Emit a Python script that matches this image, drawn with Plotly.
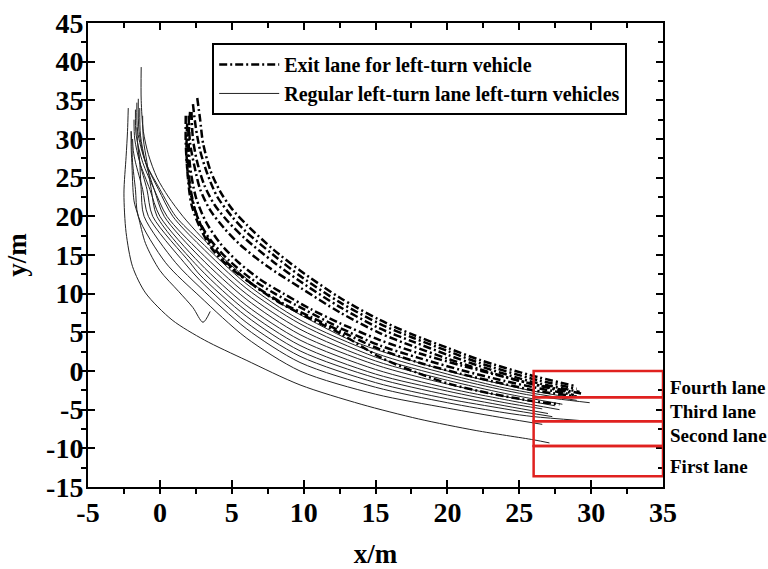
import plotly.graph_objects as go

# ---------------- data ----------------
x_ticks = [-5, 0, 5, 10, 15, 20, 25, 30, 35]
x_tick_labels = ["-5", "0", "5", "10", "15", "20", "25", "30", "35"]
y_ticks = [-15, -10, -5, 0, 5, 10, 15, 20, 25, 30, 35, 40, 45]
y_tick_labels = ["-15", "-10", "-5", "0", "5", "10", "15", "20", "25", "30", "35", "40", "45"]

# exit-lane left-turn vehicle trajectories (dash-dot)
exit_x = [
    [2.6, 2.8, 3.0, 3.5, 4.2, 5.0, 6.1, 7.9, 9.75, 12.5, 15.3, 17.6, 20, 22.3, 25.7, 28.8],
    [2.3, 2.5, 2.8, 3.3, 4.0, 5.0, 6.0, 7.9, 9.75, 12.5, 15.3, 17.6, 20, 22.3, 25.7, 29.0],
    [2.2, 2.3, 2.6, 3.1, 3.8, 4.8, 6.0, 7.9, 9.75, 12.5, 15.3, 17.6, 20, 22.3, 25.7, 29.2],
    [2.0, 2.1, 2.4, 2.8, 3.5, 4.5, 5.6, 7.5, 9.75, 12.5, 15.3, 17.6, 20, 22.3, 25.7, 28.5],
    [2.1, 2.0, 2.1, 2.5, 3.2, 4.2, 5.5, 7.0, 8.6, 10.5, 12.5, 15.3, 18, 21, 24, 26, 29.3],
    [1.8, 1.8, 1.9, 2.2, 2.7, 3.5, 4.8, 6.3, 8.0, 10, 12.5, 15.3, 18, 21, 24, 26, 28.8],
    [1.9, 1.85, 1.95, 2.2, 2.8, 3.7, 5.0, 6.6, 8.6, 10.5, 12.5, 15.3, 18, 21, 24, 26, 29.0],
    [2.0, 1.95, 2.1, 2.5, 3.3, 4.5, 6.0, 8.0, 10, 12.5, 15.3, 18, 20.2, 23, 26, 27.8],
]
exit_y = [
    [35.3, 32.5, 29.5, 26, 23.2, 21, 18.8, 15.7, 13.0, 9.5, 6.6, 4.7, 3.0, 1.4, -0.5, -1.9],
    [34.5, 31.5, 28.5, 25.5, 22.5, 20, 18.0, 15.0, 12.3, 8.9, 6.1, 4.3, 2.6, 1.0, -0.9, -2.3],
    [33.5, 30, 27, 24, 21.5, 19.2, 17.0, 14.1, 11.6, 8.3, 5.5, 3.8, 2.1, 0.6, -1.3, -2.7],
    [33.0, 29.5, 26.5, 23.5, 20.8, 18.4, 16.3, 13.5, 10.8, 7.6, 4.9, 3.2, 1.6, 0.2, -1.6, -2.8],
    [33.5, 30, 26.5, 22.5, 19.3, 16.5, 14.0, 11.8, 10.0, 8.0, 6.2, 4.0, 2.3, 0.7, -0.8, -1.7, -2.9],
    [33.0, 29.5, 26.3, 22.5, 19.5, 17.0, 14.3, 12.0, 10.0, 8.0, 5.6, 3.3, 1.7, 0.1, -1.3, -2.1, -3.1],
    [32.0, 28.5, 25, 21.5, 18.5, 15.6, 13.2, 11.0, 8.7, 7.0, 5.2, 2.8, 1.1, -0.4, -1.7, -2.5, -3.3],
    [31.5, 28, 24, 20.5, 17.2, 14.3, 11.8, 9.2, 7.2, 4.9, 1.8, -0.3, -1.7, -2.9, -3.9, -4.3],
]

# regular left-turn lane vehicle trajectories (solid)
regular_x = [
    [-1.3, -1.3, -1.15, -0.8, -0.2, 0.6, 1.6, 2.8, 4.0, 6.0, 8.0, 9.75, 13, 15, 20, 24, 26, 28.5],
    [-1.6, -1.55, -1.0, 0.0, 1.1, 2.8, 6, 9.75, 15, 20, 24, 26, 29.0],
    [-1.5, -1.45, -1.0, -0.1, 0.9, 2.8, 6, 9.75, 15, 20, 24, 26, 29.9],
    [-1.7, -1.65, -1.2, -0.4, 0.5, 2.8, 6, 9.75, 15, 20, 24, 28.0],
    [-1.4, -1.35, -1.0, -0.4, 0.3, 2.8, 6, 9.75, 15, 20, 24, 27.5],
    [-1.8, -1.75, -1.4, -0.7, 0.0, 2.8, 6, 9.75, 15, 20, 24, 26, 27.8],
    [-1.2, -1.15, -0.9, -0.6, -0.2, 2.8, 6, 9.75, 15, 20, 24, 26.6],
    [-1.6, -1.55, -1.4, -0.9, -0.5, 2.1, 2.8, 6, 9.75, 15, 20, 24, 27.0],
    [-1.9, -1.85, -1.7, -1.2, -0.8, 1.7, 2.8, 6, 9.75, 15, 20, 24, 27.3],
    [-1.5, -1.45, -1.4, -1.3, -1.1, 1.1, 2.8, 6, 9.75, 15, 20, 24, 26, 29.2],
    [-2.0, -1.95, -1.9, -1.7, -1.5, 0.4, 2.8, 6, 9.75, 15, 20, 24, 26.6],
    [-2.2, -2.25, -2.35, -2.5, -2.35, -1.9, -1.0, 0.85, 3.1, 6, 9.75, 14, 18, 22, 26, 27.1],
    [-2.0, -2.0, -1.95, -1.8, -1.5, -1.0, 0.0, 1.3, 2.3, 3.0, 3.5],
]
regular_y = [
    [39.3, 35, 31, 28, 25, 22.5, 20, 17.5, 15.3, 12.0, 9.2, 7.3, 4.2, 2.8, 0.0, -1.8, -2.6, -3.4],
    [34.7, 31, 27, 23.5, 20, 16.8, 11.3, 6.6, 2.3, -0.4, -2.2, -2.9, -3.8],
    [35.2, 31, 27, 23.5, 20, 16.2, 10.7, 6.1, 1.8, -0.8, -2.5, -3.2, -4.1],
    [33.8, 30.5, 27, 23.5, 20, 15.4, 10.0, 5.4, 1.3, -1.2, -2.9, -4.3],
    [34.0, 30.5, 27, 23.5, 20, 14.7, 9.3, 4.7, 0.8, -1.7, -3.3, -4.5],
    [32.5, 30, 27, 23.5, 20, 13.9, 8.5, 4.0, 0.2, -2.2, -3.7, -4.4, -5.0],
    [33.0, 30, 27, 23.5, 20, 13.2, 7.8, 3.3, -0.4, -2.6, -4.1, -4.9],
    [31.5, 29.5, 27, 23.5, 20, 14, 12.4, 7.1, 2.6, -0.9, -3.1, -4.5, -5.5],
    [30.0, 28.5, 27, 23.5, 20, 14, 11.7, 6.3, 1.9, -1.5, -3.6, -4.9, -5.9],
    [29.0, 28, 27, 23.5, 20, 14, 10.8, 5.5, 1.1, -2.1, -4.1, -5.4, -5.9, -6.4],
    [31.0, 29.5, 27, 23.5, 20, 14, 9.6, 4.3, 0.0, -3.0, -4.8, -6.1, -6.9],
    [34.0, 31, 27.7, 23, 17.9, 13.5, 10.1, 6.6, 4.0, 1.4, -1.8, -4.3, -6.2, -7.7, -8.9, -9.3],
    [31.0, 29, 27, 22, 20, 16.5, 13, 10.3, 8.2, 6.3, 7.7],
]

# lane boxes (x from / to, y bounds) and lane labels
lane_x0 = 26
lane_x1 = 35
lane_bounds = [0, -3.4, -6.5, -9.7, -13.6]
lane_names = ["Fourth lane", "Third lane", "Second lane", "First lane"]
lane_label_y = [-2.1, -5.3, -8.3, -12.3]

exit_name = "Exit lane for left-turn vehicle"
regular_name = "Regular left-turn lane left-turn vehicles"

# ---------------- figure ----------------
SERIF = "Liberation Serif"
fig = go.Figure()

for i, (xs, ys) in enumerate(zip(regular_x, regular_y)):
    fig.add_trace(go.Scatter(
        x=xs, y=ys, mode="lines",
        line=dict(color="#222222", width=1, shape="spline", smoothing=0.8),
        name=regular_name, legendgroup="reg", showlegend=(i == 0),
        legendrank=2,
    ))

for i, (xs, ys) in enumerate(zip(exit_x, exit_y)):
    fig.add_trace(go.Scatter(
        x=xs, y=ys, mode="lines",
        line=dict(color="black", width=2.5, dash="8px,3px,2px,3px",
                  shape="spline", smoothing=0.8),
        name=exit_name, legendgroup="exit", showlegend=(i == 0),
        legendrank=1,
    ))

# empty trace so the mirrored (top / right) tick axes are drawn
fig.add_trace(go.Scatter(x=[], y=[], xaxis="x2", yaxis="y2", mode="lines",
                         showlegend=False, hoverinfo="skip"))

for k in range(len(lane_names)):
    fig.add_shape(type="rect", xref="x", yref="y",
                  x0=lane_x0, x1=lane_x1,
                  y0=lane_bounds[k + 1], y1=lane_bounds[k],
                  line=dict(color="#e0211f", width=2.5), layer="above")
    fig.add_annotation(xref="paper", yref="y", x=1.008, y=lane_label_y[k],
                       xanchor="left", yanchor="middle", showarrow=False,
                       text="<b>%s</b>" % lane_names[k],
                       font=dict(family=SERIF, size=19, color="black"))

axis_common = dict(
    showgrid=False, zeroline=False, automargin=False,
    showline=True, linecolor="black", linewidth=2, mirror=True,
    ticks="inside", ticklen=7, tickwidth=2, tickcolor="black",
    tickfont=dict(family=SERIF, size=28, color="black", weight="bold"),
)
mirror_common = dict(
    showgrid=False, zeroline=False, automargin=False, showline=False,
    showticklabels=False, ticks="inside", ticklen=7, tickwidth=2,
    tickcolor="black", fixedrange=True,
)

fig.update_layout(
    xaxis=dict(
        range=[-5, 35], tickvals=x_ticks, ticktext=x_tick_labels,
        minor=dict(ticks="outside", dtick=2.5, tick0=-5, ticklen=5,
                   tickwidth=2, tickcolor="black"),
        title=dict(text="<b>x/m</b>", font=dict(family=SERIF, size=27, color="black"),
                   standoff=22),
        ticklabelstandoff=-1,
        **axis_common,
    ),
    yaxis=dict(
        range=[-15, 45], tickvals=y_ticks, ticktext=y_tick_labels,
        minor=dict(ticks="outside", dtick=2.5, tick0=-15, ticklen=5,
                   tickwidth=2, tickcolor="black"),
        title=dict(text="<b>y/m</b>", font=dict(family=SERIF, size=27, color="black"),
                   standoff=12),
        ticklabelstandoff=-3,
        **axis_common,
    ),
    xaxis2=dict(
        overlaying="x", side="top", anchor="y2", range=[-5, 35], tickvals=x_ticks,
        minor=dict(ticks="inside", dtick=2.5, tick0=-5, ticklen=5,
                   tickwidth=2, tickcolor="black"),
        **mirror_common,
    ),
    yaxis2=dict(
        overlaying="y", side="right", anchor="x2", range=[-15, 45], tickvals=y_ticks,
        minor=dict(ticks="inside", dtick=2.5, tick0=-15, ticklen=5,
                   tickwidth=2, tickcolor="black"),
        **mirror_common,
    ),
)

fig.update_layout(
    width=768, height=569,
    margin=dict(l=88, r=105, t=23, b=82),
    paper_bgcolor="white", plot_bgcolor="white",
    showlegend=True,
    legend=dict(
        x=0.216, y=0.957, xanchor="left", yanchor="top",
        bgcolor="white", bordercolor="black", borderwidth=2,
        font=dict(family=SERIF, size=20, color="black", weight="bold"),
        itemwidth=60, traceorder="normal", tracegroupgap=0,
    ),
)

fig.write_html("out.html", config={"displayModeBar": False},
               post_script="document.body.style.margin='0';document.body.style.overflow='hidden';")
